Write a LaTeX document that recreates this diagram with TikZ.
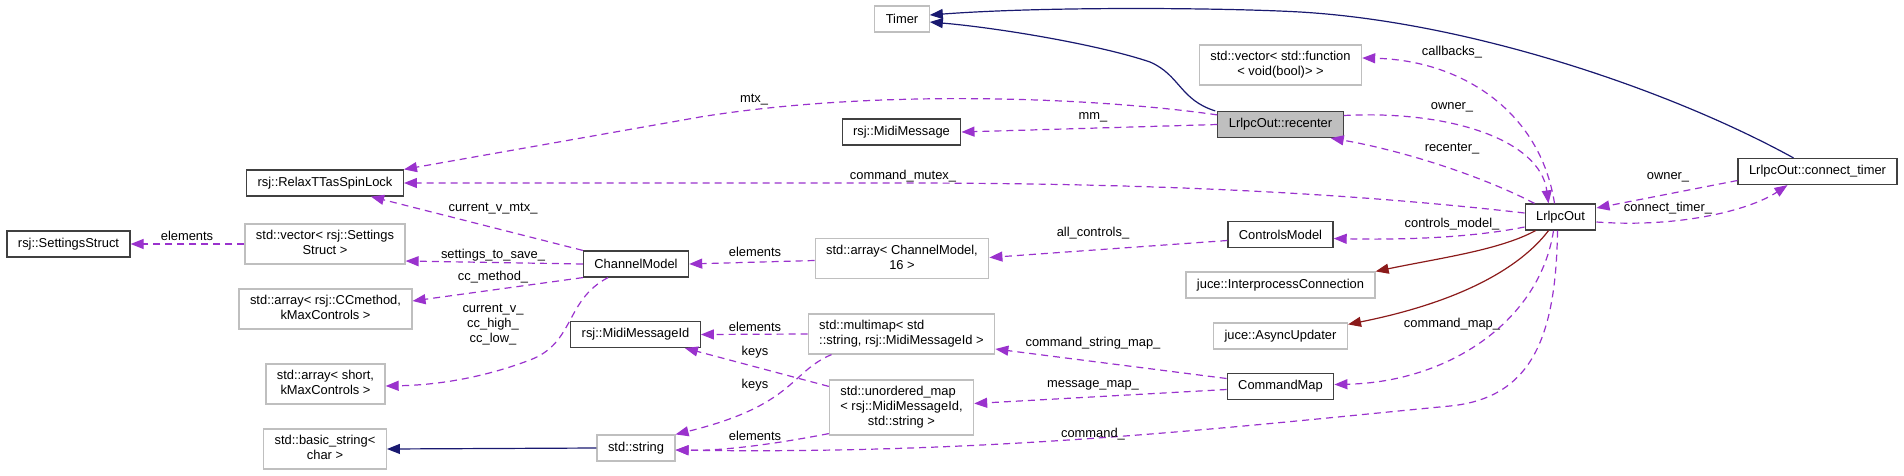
\documentclass[tikz,border=0pt]{standalone}
\usepackage{fontspec}
\setmainfont{Liberation Sans}
\usepackage{xcolor}
\usetikzlibrary{arrows.meta}
\definecolor{edgepurple}{HTML}{9A32CD}
\definecolor{edgeblue}{HTML}{191970}
\definecolor{edgered}{HTML}{8B1A1A}
\definecolor{boxgrey}{HTML}{BFBFBF}
\definecolor{boxline}{HTML}{404040}
\newcommand\dgfont{\fontsize{12.9pt}{15pt}\selectfont}
\newcommand\twoln[2]{\begin{tabular}{@{}l@{}}#1\\\multicolumn{1}{@{}c@{}}{#2}\end{tabular}}
\newcommand\threeln[3]{\begin{tabular}{@{}l@{}}#1\\#2\\\multicolumn{1}{@{}c@{}}{#3}\end{tabular}}
\tikzset{
    cbox/.style={draw=boxline, fill=white, line width=1.2pt, font=\dgfont,
                 minimum height=26pt, inner xsep=11pt, inner ysep=5pt},
    xbox/.style={cbox, draw=boxgrey},
    curbox/.style={cbox, fill=boxgrey},
    elab/.style={font=\dgfont, inner sep=0pt, align=center},
}

\begin{document}
\begin{tikzpicture}[
    x=1pt, y=-1pt,
    usearr/.style={-{Triangle[length=13pt,width=10pt]}, edgepurple, line width=1.2pt,
                   dash pattern=on 7pt off 5pt},
    inharr/.style={-{Triangle[length=13pt,width=10pt]}, edgeblue, line width=1.2pt},
    protarr/.style={-{Triangle[length=13pt,width=10pt]}, edgered, line width=1.2pt}
]
    \useasboundingbox (0,0) rectangle (1904,475);

    \node[cbox] (settings) at (68.5,244) {rsj::SettingsStruct};
    \node[cbox] (rlock) at (325,183) {rsj::RelaxTTasSpinLock};
    \node[xbox] (vecset) at (325,244) {\twoln{std::vector< rsj::Settings}{Struct >}};
    \node[xbox] (arrcc) at (325.5,309) {\twoln{std::array< rsj::CCmethod,}{kMaxControls >}};
    \node[xbox] (arrshort) at (325.5,384) {\twoln{std::array< short,}{kMaxControls >}};
    \node[xbox] (basicstr) at (325,449) {\twoln{std::basic\_string<}{char >}};
    \node[cbox] (chan) at (636,264) {ChannelModel};
    \node[cbox] (mmid) at (635.5,334.5) {rsj::MidiMessageId};
    \node[xbox] (stdstr) at (636,448) {std::string};
    \node[xbox] (timer) at (902,19) {Timer};
    \node[cbox] (midimsg) at (901.5,132) {rsj::MidiMessage};
    \node[xbox] (arrchan) at (902,258.5) {\twoln{std::array< ChannelModel,}{16 >}};
    \node[xbox] (mmap) at (901.5,334) {\twoln{std::multimap< std}{::string, rsj::MidiMessageId >}};
    \node[xbox] (umap) at (901.5,407.5) {\threeln{std::unordered\_map}{< rsj::MidiMessageId,}{std::string >}};
    \node[xbox] (vecfunc) at (1280.5,65) {\twoln{std::vector< std::function}{< void(bool)> >}};
    \node[curbox] (recenter) at (1280.5,124.5) {LrlpcOut::recenter};
    \node[cbox] (controls) at (1280.5,234.5) {ControlsModel};
    \node[xbox] (interp) at (1280.5,285) {juce::InterprocessConnection};
    \node[xbox] (async) at (1280.5,336) {juce::AsyncUpdater};
    \node[cbox] (cmap) at (1280.5,386.5) {CommandMap};
    \node[cbox] (lrlpc) at (1560.5,217) {LrlpcOut};
    \node[cbox] (ctimer) at (1817.5,171.5) {LrlpcOut::connect\_timer};

    \draw[inharr] ([xshift=-2pt]recenter.north west) .. controls (1180,100) and (1180,75) .. (1150,62)
        .. controls (1100,45) and (1000,28) .. ([yshift=-3pt]timer.east);
    \draw[inharr] ([xshift=-24pt]ctimer.north) .. controls (1670,90) and (1470,22) .. (1300,12)
        .. controls (1230,8) and (1050,6) .. ([yshift=4pt]timer.east);
    \draw[usearr] ([yshift=-4pt]recenter.north west) .. controls (1100,98) and (880,88) .. (700,117)
        -- (rlock.north east);
    \draw[usearr] (recenter.west) -- (midimsg.east);
    \draw[usearr] ([xshift=-6pt]lrlpc.north) .. controls (1540,110) and (1460,60) .. ([yshift=7pt]vecfunc.east);
    \draw[usearr] ([yshift=9pt]recenter.east) .. controls (1450,110) and (1540,140) .. ([xshift=-12pt]lrlpc.north);
    \draw[usearr] ([xshift=-26pt]lrlpc.north) .. controls (1480,175) and (1400,150) .. ([xshift=-13pt]recenter.south east);
    \draw[usearr] ([yshift=4pt]lrlpc.west) .. controls (1350,193) and (1150,183) .. (900,183) -- (rlock.east);
    \draw[usearr] ([yshift=-9pt]ctimer.west) -- ([yshift=9pt]lrlpc.east);
    \draw[usearr] ([yshift=-5pt]lrlpc.east) .. controls (1680,228) and (1750,210) .. ([xshift=-30pt]ctimer.south);
    \draw[usearr] ([yshift=-10pt]lrlpc.west) .. controls (1470,238) and (1400,240) .. ([yshift=-4pt]controls.east);
    \draw[usearr] ([yshift=-6pt]controls.west) -- ([yshift=1pt]arrchan.east);
    \draw[usearr] ([yshift=-2pt]arrchan.west) -- (chan.east);
    \draw[protarr] ([xshift=-25pt]lrlpc.south) .. controls (1500,250) and (1440,258) .. (interp.north east);
    \draw[protarr] ([xshift=-12pt]lrlpc.south) .. controls (1520,268) and (1460,302) .. ([yshift=-2pt]async.north east);
    \draw[usearr] ([xshift=-7pt]lrlpc.south) .. controls (1540,320) and (1450,382) .. ([yshift=2pt]cmap.east);
    \draw[usearr] ([xshift=-3pt]lrlpc.south) .. controls (1556,340) and (1530,398) .. (1450,406)
        .. controls (1250,425) and (1000,455) .. ([yshift=-2pt]stdstr.east);
    \draw[usearr] ([yshift=8pt]cmap.west) -- ([yshift=-15pt]mmap.east);
    \draw[usearr] ([yshift=-3pt]cmap.west) -- ([yshift=4pt]umap.east);
    \draw[usearr] (mmap.west) -- (mmid.east);
    \draw[usearr] ([yshift=-7pt]umap.north west) -- ([xshift=-16pt]mmid.south east);
    \draw[usearr] ([xshift=-70pt]mmap.south) .. controls (790,372) and (795,405) .. (stdstr.north east);
    \draw[usearr] ([yshift=2pt]umap.south west) .. controls (770,445) and (720,451) .. ([yshift=-2pt]stdstr.east);
    \draw[inharr] (stdstr.west) -- (basicstr.east);
    \draw[usearr] (vecset.west) -- (settings.east);
    \draw[usearr] (chan.north west) -- ([xshift=46pt]rlock.south);
    \draw[usearr] (chan.west) -- ([yshift=-17pt]vecset.east);
    \draw[usearr] (chan.south west) -- ([yshift=8pt]arrcc.east);
    \draw[usearr] ([xshift=-28pt]chan.south) .. controls (565,300) and (575,343) .. (530,360)
        .. controls (485,377) and (440,385) .. ([yshift=-2pt]arrshort.east);

    \node[elab] (lmtx) at (754,100) {mtx\_};
    \node[elab] (lmm) at (1093,117) {mm\_};
    \node[elab] (lcallbacks) at (1452,52) {callbacks\_};
    \node[elab] (lowner) at (1452,107) {owner\_};
    \node[elab] (lrecenter) at (1452,149) {recenter\_};
    \node[elab] (lcmdmutex) at (903,176) {command\_mutex\_};
    \node[elab] (lowner2) at (1668,177) {owner\_};
    \node[elab] (lctimer) at (1668,208) {connect\_timer\_};
    \node[elab] (lctrl) at (1452,224) {controls\_model\_};
    \node[elab] (lallctrl) at (1093,233) {all\_controls\_};
    \node[elab] (lelem1) at (755,252) {elements};
    \node[elab] (lcmdmap) at (1452,324) {command\_map\_};
    \node[elab] (lcsmap) at (1093,343) {command\_string\_map\_};
    \node[elab] (lmsgmap) at (1093,385) {message\_map\_};
    \node[elab] (lcmd) at (1093,434) {command\_};
    \node[elab] (lelem2) at (755,327) {elements};
    \node[elab] (lkeys1) at (755,352) {keys};
    \node[elab] (lkeys2) at (755,385) {keys};
    \node[elab] (lelem3) at (755,436) {elements};
    \node[elab] (lelem4) at (187,236) {elements};
    \node[elab] (lcvmtx) at (493,209) {current\_v\_mtx\_};
    \node[elab] (lsave) at (493,255) {settings\_to\_save\_};
    \node[elab] (lccm) at (493,277) {cc\_method\_};
    \node[elab] (lcv) at (493,325) {current\_v\_\\cc\_high\_\\cc\_low\_};
\end{tikzpicture}
\end{document}
